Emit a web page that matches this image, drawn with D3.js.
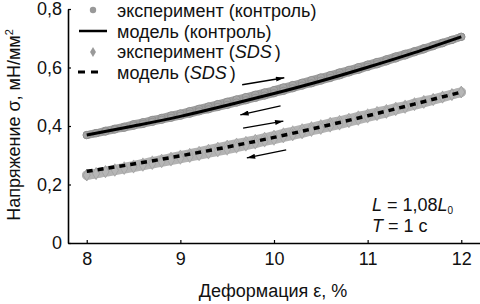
<!DOCTYPE html>
<html>
<head>
<meta charset="utf-8">
<script src="https://cdn.jsdelivr.net/npm/d3@7"></script>
<style>
  html, body { margin: 0; padding: 0; background: #fff; }
  svg { display: block; font-family: "Liberation Sans", Arial, sans-serif; }
</style>
</head>
<body>
<div id="chart"></div>
<script>
// деформация, % (сетка точек эксперимента)
const strain = [8.0, 8.1, 8.2, 8.3, 8.4, 8.5, 8.6, 8.7, 8.8, 8.9,
  9.0, 9.1, 9.2, 9.3, 9.4, 9.5, 9.6, 9.7, 9.8, 9.9,
  10.0, 10.1, 10.2, 10.3, 10.4, 10.5, 10.6, 10.7, 10.8, 10.9,
  11.0, 11.1, 11.2, 11.3, 11.4, 11.5, 11.6, 11.7, 11.8, 11.9, 12.0];

// эксперимент (контроль): нагрузка и разгрузка
const ctrlLoad = [0.369, 0.376, 0.384, 0.391, 0.398, 0.406, 0.413, 0.421, 0.428, 0.436,
  0.443, 0.451, 0.459, 0.467, 0.475, 0.483, 0.491, 0.499, 0.507, 0.515,
  0.523, 0.532, 0.540, 0.548, 0.557, 0.566, 0.574, 0.583, 0.592, 0.601,
  0.610, 0.619, 0.628, 0.638, 0.647, 0.656, 0.666, 0.676, 0.685, 0.695, 0.705];
const ctrlUnload = [0.369, 0.375, 0.381, 0.388, 0.394, 0.401, 0.407, 0.414, 0.421, 0.428,
  0.435, 0.442, 0.450, 0.457, 0.465, 0.472, 0.480, 0.488, 0.496, 0.504,
  0.512, 0.520, 0.529, 0.538, 0.546, 0.555, 0.564, 0.573, 0.583, 0.592,
  0.602, 0.611, 0.621, 0.631, 0.641, 0.652, 0.662, 0.673, 0.683, 0.694, 0.705];

// эксперимент (SDS): нагрузка и разгрузка
const sdsLoad = [0.232, 0.238, 0.245, 0.251, 0.258, 0.264, 0.271, 0.278, 0.284, 0.291,
  0.298, 0.304, 0.311, 0.318, 0.325, 0.332, 0.339, 0.345, 0.352, 0.359,
  0.366, 0.374, 0.381, 0.388, 0.395, 0.402, 0.410, 0.417, 0.424, 0.432,
  0.439, 0.447, 0.454, 0.462, 0.469, 0.477, 0.485, 0.492, 0.500, 0.508, 0.516];
const sdsUnload = [0.232, 0.237, 0.243, 0.248, 0.254, 0.259, 0.265, 0.271, 0.277, 0.283,
  0.289, 0.295, 0.301, 0.307, 0.314, 0.320, 0.327, 0.334, 0.341, 0.348,
  0.354, 0.362, 0.369, 0.376, 0.384, 0.391, 0.399, 0.406, 0.414, 0.422,
  0.430, 0.438, 0.446, 0.455, 0.463, 0.472, 0.480, 0.489, 0.498, 0.507, 0.516];

// модель
const modelStrain = [8.0, 8.5, 9.0, 9.5, 10.0, 10.5, 11.0, 11.5, 12.0];
const modelCtrl = [0.369, 0.400, 0.433, 0.471, 0.511, 0.554, 0.601, 0.651, 0.705];
const modelSds = [0.245, 0.270, 0.298, 0.328, 0.361, 0.397, 0.435, 0.475, 0.516];

// стрелки направления обхода петли: [x0, y0, x1, y1], остриё в конце
const arrows = [
  [9.66, 0.541, 10.11, 0.565],
  [10.07, 0.469, 9.64, 0.438],
  [9.67, 0.393, 10.10, 0.417],
  [10.13, 0.318, 9.71, 0.291]
];

const xTicks = [8, 9, 10, 11, 12];
const yTicks = [0, 0.2, 0.4, 0.6, 0.8];

const width = 480, height = 304;
const margin = { top: 9, right: 0, bottom: 61, left: 68 };
const fs = 18;

const svg = d3.select("#chart").append("svg")
  .attr("width", width)
  .attr("height", height);

const x = d3.scaleLinear().domain([7.8, 12.2]).range([margin.left, width - margin.right]);
const y = d3.scaleLinear().domain([0, 0.8]).range([height - margin.bottom, margin.top]);

const fmt = v => (v === 0 ? "0" : d3.format(".1f")(v).replace(".", ","));

// оси
const gx = svg.append("g")
  .attr("transform", `translate(0,${y(0)})`)
  .call(d3.axisBottom(x).tickValues(xTicks).tickSizeInner(-3).tickSizeOuter(0).tickPadding(9).tickFormat(d3.format("d")));
const gy = svg.append("g")
  .attr("transform", `translate(${x(7.8)},0)`)
  .call(d3.axisLeft(y).tickValues(yTicks).tickSizeInner(-3).tickSizeOuter(0).tickPadding(6).tickFormat(fmt));

[gx, gy].forEach(g => {
  g.select(".domain").attr("stroke", "#000").attr("stroke-width", 1.6);
  g.selectAll(".tick line").attr("stroke", "#000").attr("stroke-width", 1.2);
  g.selectAll(".tick text").attr("font-size", fs).attr("fill", "#111")
    .attr("font-family", "'Liberation Sans', Arial, sans-serif");
});

const line = d3.line().x(d => x(d[0])).y(d => y(d[1])).curve(d3.curveMonotoneX);
const pairs = (xs, ys) => xs.map((s, i) => [s, ys[i]]);

// эксперимент SDS — полоса из ромбов
[sdsLoad, sdsUnload].forEach(vals => {
  svg.append("path").datum(pairs(strain, vals)).attr("d", line)
    .attr("fill", "none").attr("stroke", "#b3b3b3").attr("stroke-width", 9.5)
    .attr("stroke-linecap", "round");
});
const diamond = d3.symbol().type(d3.symbolDiamond).size(40);
svg.append("g").selectAll("path")
  .data(pairs(strain, sdsLoad).concat(pairs(strain, sdsUnload)))
  .join("path")
  .attr("d", diamond)
  .attr("transform", d => `translate(${x(d[0])},${y(d[1])})`)
  .attr("fill", "#b6b6b6")
  .attr("stroke", "#9c9c9c")
  .attr("stroke-width", 0.6);

// эксперимент контроль — полоса из кружков
[ctrlLoad, ctrlUnload].forEach(vals => {
  svg.append("path").datum(pairs(strain, vals)).attr("d", line)
    .attr("fill", "none").attr("stroke", "#9d9d9d").attr("stroke-width", 7.5)
    .attr("stroke-linecap", "round");
});
svg.append("g").selectAll("circle")
  .data(pairs(strain, ctrlLoad).concat(pairs(strain, ctrlUnload)))
  .join("circle")
  .attr("cx", d => x(d[0]))
  .attr("cy", d => y(d[1]))
  .attr("r", 3.7)
  .attr("fill", "#a4a4a4")
  .attr("stroke", "#848484")
  .attr("stroke-width", 0.6);

// модельные кривые
svg.append("path")
  .datum(pairs(modelStrain, modelCtrl))
  .attr("d", line)
  .attr("fill", "none")
  .attr("stroke", "#000")
  .attr("stroke-width", 3);
svg.append("path")
  .datum(pairs(modelStrain, modelSds))
  .attr("d", line)
  .attr("fill", "none")
  .attr("stroke", "#000")
  .attr("stroke-width", 3.5)
  .attr("stroke-dasharray", "6,5");

// стрелки
svg.append("defs").append("marker")
  .attr("id", "head")
  .attr("viewBox", "0 0 10 6")
  .attr("refX", 10).attr("refY", 3)
  .attr("markerWidth", 10).attr("markerHeight", 5)
  .attr("markerUnits", "userSpaceOnUse")
  .attr("orient", "auto")
  .append("path").attr("d", "M0,0L10,3L0,6Z").attr("fill", "#000");
svg.append("g").selectAll("line")
  .data(arrows)
  .join("line")
  .attr("x1", d => x(d[0])).attr("y1", d => y(d[1]))
  .attr("x2", d => x(d[2])).attr("y2", d => y(d[3]))
  .attr("stroke", "#000")
  .attr("stroke-width", 1.3)
  .attr("marker-end", "url(#head)");

// легенда
const legend = svg.append("g").attr("font-size", fs).attr("fill", "#111");
legend.append("circle").attr("cx", 93).attr("cy", 10).attr("r", 3.2).attr("fill", "#999");
legend.append("line").attr("x1", 79).attr("x2", 107).attr("y1", 31).attr("y2", 31)
  .attr("stroke", "#000").attr("stroke-width", 2.5);
legend.append("path").attr("d", d3.symbol().type(d3.symbolDiamond).size(30))
  .attr("transform", "translate(93,52)").attr("fill", "#999");
legend.append("line").attr("x1", 78).attr("x2", 102).attr("y1", 72).attr("y2", 72)
  .attr("stroke", "#000").attr("stroke-width", 3).attr("stroke-dasharray", "7,6");

const legendRows = [
  { y: 17, pre: "эксперимент (контроль)", it: null, post: "" },
  { y: 38, pre: "модель (контроль)", it: null, post: "" },
  { y: 58, pre: "эксперимент (", it: "SDS", post: ")" },
  { y: 79, pre: "модель (", it: "SDS", post: ")" }
];
legendRows.forEach(r => {
  const t = legend.append("text").attr("x", 117).attr("y", r.y);
  t.append("tspan").text(r.pre);
  if (r.it) {
    t.append("tspan").attr("font-style", "italic").text(r.it);
    t.append("tspan").attr("dx", 3).text(r.post);
  }
});

// подписи условий
const note = svg.append("g").attr("font-size", fs).attr("fill", "#111");
const n1 = note.append("text").attr("x", 372).attr("y", 211);
n1.append("tspan").attr("font-style", "italic").text("L");
n1.append("tspan").text(" = 1,08");
n1.append("tspan").attr("font-style", "italic").text("L");
n1.append("tspan").attr("font-size", 10).attr("dy", 3).text("0");
const n2 = note.append("text").attr("x", 372).attr("y", 232);
n2.append("tspan").attr("font-style", "italic").text("T");
n2.append("tspan").text(" = 1 с");

// подписи осей
svg.append("text")
  .attr("x", 273).attr("y", 297)
  .attr("text-anchor", "middle")
  .attr("font-size", fs).attr("fill", "#111")
  .text("Деформация ε, %");

const yl = svg.append("text")
  .attr("transform", "translate(20,125) rotate(-90)")
  .attr("text-anchor", "middle")
  .attr("font-size", fs).attr("fill", "#111");
yl.append("tspan").text("Напряжение σ, мН/мм");
yl.append("tspan").attr("font-size", 11).attr("dy", -7).text("2");
</script>
</body>
</html>
